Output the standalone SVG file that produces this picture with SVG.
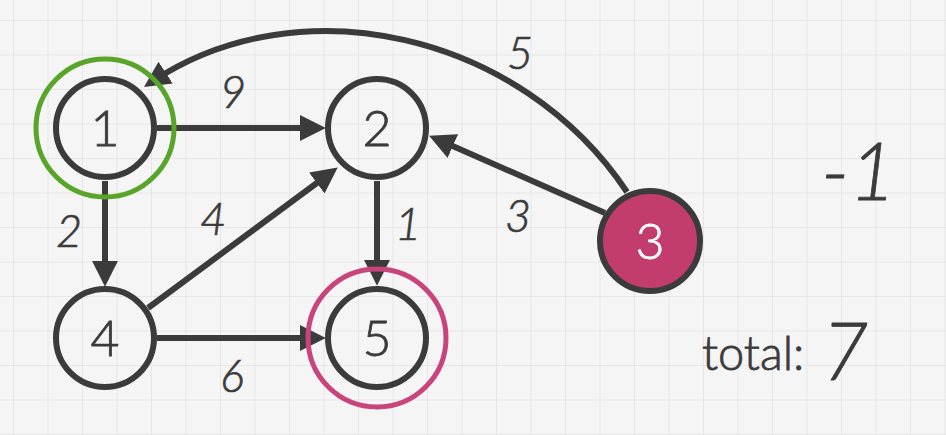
<svg xmlns="http://www.w3.org/2000/svg" width="946" height="435" viewBox="0 0 946 435">
<defs>
<pattern id="grid" patternUnits="userSpaceOnUse" x="13" y="20" width="34.5" height="34.5">
<rect width="34.5" height="34.5" fill="#f5f5f5"/>
<path d="M0,0 H34.5 M0,0 V34.5" stroke="#e3e3e3" stroke-width="1.6" fill="none"/>
</pattern>
<marker id="arr" markerUnits="userSpaceOnUse" markerWidth="26" markerHeight="26" viewBox="0 0 24 24" refX="14" refY="12" orient="auto">
<path d="M0,0 L24,12 L0,24 z" fill="#3b3b3b"/>
</marker>
<style>
.node{fill:none;stroke:#3b3b3b;stroke-width:6}
.lbl{font-family:Lato,"Open Sans",sans-serif;font-weight:300;font-size:50px;fill:#3b3b3b;stroke:#3b3b3b;stroke-width:0.8;text-anchor:middle}
.w{font-family:Lato,"Open Sans",sans-serif;font-weight:300;font-size:45px;font-style:italic;fill:#3b3b3b;stroke:#3b3b3b;stroke-width:0.7;text-anchor:middle}
.e{fill:none;stroke:#3b3b3b;stroke-width:6;marker-end:url(#arr)}
.s{font-family:Lato,"Open Sans",sans-serif;font-weight:300;fill:#3b3b3b;stroke:#3b3b3b;stroke-width:0.8}
</style>
</defs>
<rect width="946" height="435" fill="url(#grid)"/>
<g id="edges">
<path class="e" d="M157,128 L315,128"/>
<path class="e" d="M105,181 L105,276"/>
<path class="e" d="M148,308 L329,174"/>
<path class="e" d="M157,338 L315,338"/>
<path class="e" d="M377,181 L377,275"/>
<path class="e" d="M605,213 L439,140"/>
<path class="e" d="M627,192 C520,32 300,-16 153,81"/>
<text class="w" x="233" y="108">9</text>
<text class="w" x="520" y="69">5</text>
<text class="w" x="69" y="247">2</text>
<text class="w" x="213" y="235">4</text>
<text class="w" x="408" y="240">1</text>
<text class="w" x="518" y="232">3</text>
<text class="w" x="232" y="392">6</text>
</g>
<g id="node1">
<circle cx="105" cy="128" r="69" fill="none" stroke="#58a52a" stroke-width="5"/>
<circle class="node" cx="105" cy="128" r="49"/>
<text class="lbl" x="105" y="146">1</text>
</g>
<g id="node2">
<circle class="node" cx="377" cy="128" r="49"/>
<text class="lbl" x="377" y="146">2</text>
</g>
<g id="node4">
<circle class="node" cx="105" cy="338" r="49"/>
<text class="lbl" x="105" y="356">4</text>
</g>
<g id="node5">
<circle cx="377" cy="338" r="69" fill="none" stroke="#c8447a" stroke-width="5"/>
<circle class="node" cx="377" cy="338" r="49"/>
<text class="lbl" x="377" y="356">5</text>
</g>
<g id="node3">
<circle cx="650" cy="241" r="50" fill="#c23c6e" stroke="#3b3b3b" stroke-width="6"/>
<text class="lbl" x="650" y="259" style="fill:#ffffff;stroke:#ffffff">3</text>
</g>
<g id="side">
<text class="s" x="896" y="200" style="font-size:80px;font-style:italic;text-anchor:end">-1</text>
<text class="s" x="702" y="370" style="font-size:47px">total:</text>
<text class="s" x="822" y="380" style="font-size:80px;font-style:italic">7</text>
</g>
</svg>
